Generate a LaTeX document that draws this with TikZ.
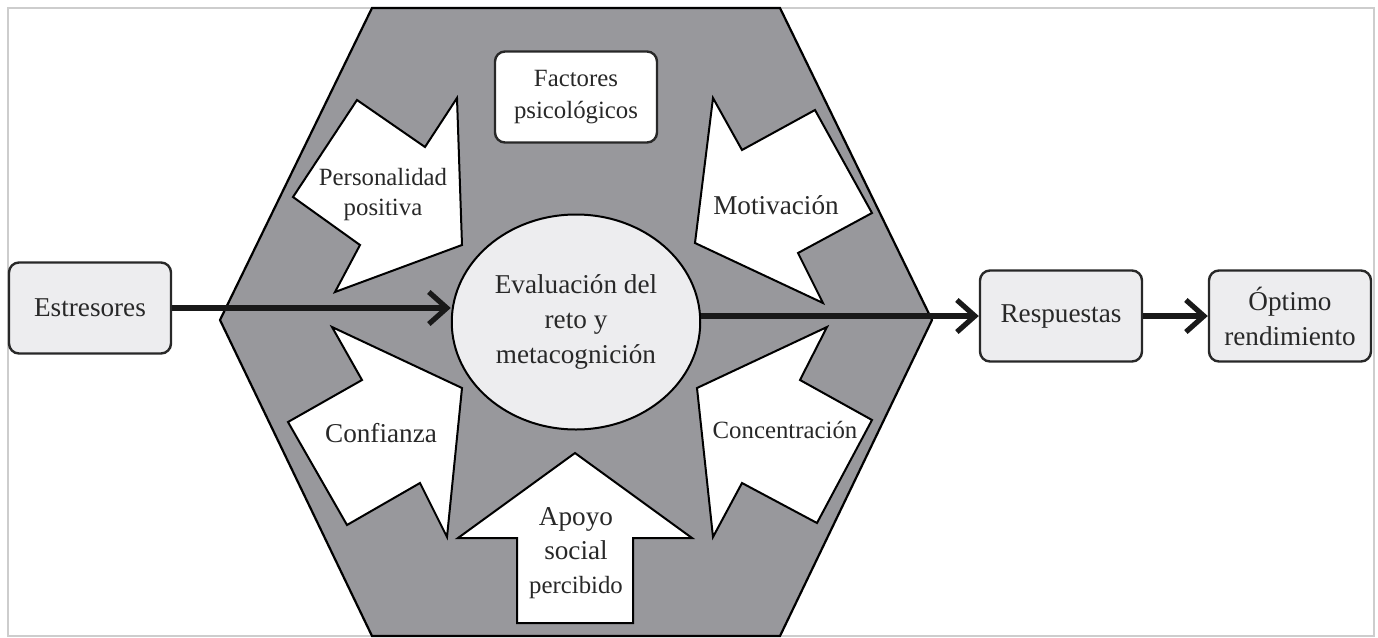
\documentclass[tikz,border=0pt]{standalone}
\usepackage{fontspec}
\setmainfont{Liberation Serif}
\usepackage{tikz}
\usetikzlibrary{positioning,arrows.meta,shapes.geometric}
\usepackage{xcolor}
\definecolor{hexgray}{RGB}{152,152,156}
\definecolor{boxgray}{RGB}{237,237,239}
\definecolor{framegray}{RGB}{205,205,205}
\definecolor{inkgray}{RGB}{40,40,40}
\newcommand{\bigtxt}{\fontsize{13.6}{17.5}\selectfont}
\newcommand{\smalltxt}{\fontsize{12.4}{15}\selectfont}

\begin{document}
\begin{tikzpicture}[x=0.5pt, y={(0pt,-0.5pt)},
    box/.style={draw=inkgray, line width=1.2pt, rounded corners=5pt, fill=boxgray,
        minimum width=81pt, minimum height=45.5pt, inner sep=1pt, align=center,
        font=\bigtxt, text=inkgray},
    blockarrow/.style={draw=black, line width=1pt, fill=white, line join=miter},
    armtext/.style={align=center, text=inkgray, font=\bigtxt, inner sep=1pt},
    flow/.style={draw=black!90, line width=2.6pt, -{Straight Barb[length=9pt,width=16pt]}}]
        \useasboundingbox (0,0) rectangle (1378,638);
        \draw[framegray, line width=1pt] (8,8) rectangle (1374,636);

        % hexagon
        \draw[fill=hexgray, line width=1.1pt] (372,8) -- (780,8) -- (932,320)
            -- (780,636) -- (372,636) -- (220,320) -- cycle;

        % block arrows towards the centre
        \draw[blockarrow] (357,100) -- (425,147) -- (457,98) -- (462,245)
            -- (335,292) -- (360,245) -- (293,197) -- cycle;
        \draw[blockarrow] (332,327) -- (462,388) -- (447,537) -- (420,483)
            -- (347,525) -- (288,422) -- (362,380) -- cycle;
        \draw[blockarrow] (713,98) -- (742,150) -- (815,110) -- (872,213)
            -- (798,253) -- (823,303) -- (695,243) -- cycle;
        \draw[blockarrow] (827,327) -- (800,380) -- (872,420) -- (817,523)
            -- (742,483) -- (713,537) -- (697,388) -- cycle;
        \draw[blockarrow] (575,453) -- (692,538) -- (633,538) -- (633,623)
            -- (517,623) -- (517,538) -- (458,538) -- cycle;

        \node[armtext, font=\smalltxt] (perso) at (383,195) {Personalidad\\positiva};
        \node[armtext] (confi) at (381,433) {Confianza};
        \node[armtext] (motiv) at (776,205) {Motivación};
        \node[armtext, font=\smalltxt] (conce) at (785,430) {Concentración};
        \node[armtext, font={\fontsize{13.6}{17}\selectfont}] (apoyo) at (576,553)
            {Apoyo\\social\\{\smalltxt percibido}};

        \node[ellipse, draw=black, line width=1pt, fill=boxgray, minimum width=121pt,
            minimum height=107.5pt, align=center, font=\bigtxt, text=inkgray]
            (eval) at (576,322) {Evaluación del\\reto y\\metacognición};
        \node[box, fill=white, font={\fontsize{12.4}{16}\selectfont}] (factores) at (576,97)
            {Factores\\psicológicos};

        \node[box] (est) at (90,308) {Estresores};
        \node[box] (resp) at (1061,316) {Respuestas};
        \node[box] (optimo) at (1290,316) {Óptimo\\rendimiento};

        \draw[flow] (est.east) -- (est.east -| eval.west);
        \draw[flow] (resp.west -| eval.east) -- (resp.west);
        \draw[flow] (resp) -- (optimo);
    \end{tikzpicture}
\end{document}
